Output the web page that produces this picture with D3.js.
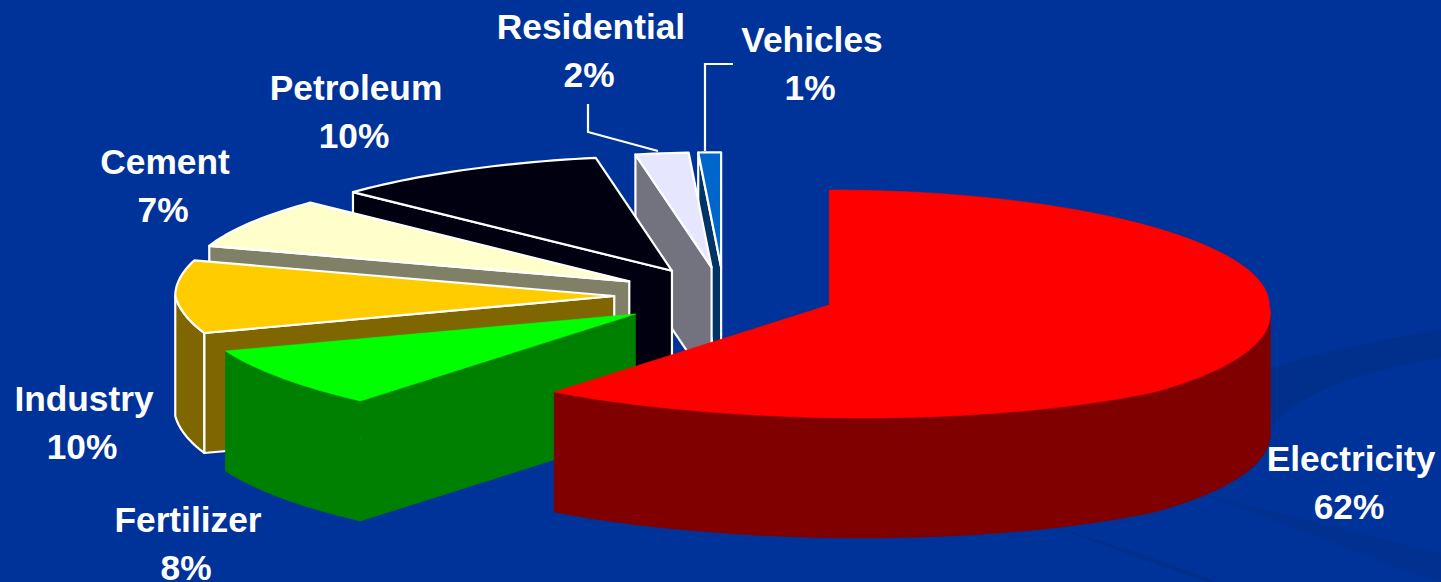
<!DOCTYPE html>
<html>
<head>
<meta charset="utf-8">
<script src="https://cdn.jsdelivr.net/npm/d3@7/dist/d3.min.js"></script>
<style>
  html, body { margin: 0; padding: 0; background: #003399; overflow: hidden; }
  svg { display: block; }
  text { font-family: "Liberation Sans", Arial, sans-serif; font-weight: bold; fill: #fff; font-size: 35.3px; text-anchor: middle; }
</style>
</head>
<body>
<svg id="chart" width="1441" height="582"></svg>
<script>
// Share of emissions by source, clockwise from twelve o'clock.
const categories = ["Electricity", "Fertilizer", "Industry", "Cement", "Petroleum", "Residential", "Vehicles"];
const shares = [62, 8, 10, 7, 10, 2, 1];
const topColors = ["#ff0000", "#00ff00", "#ffcc00", "#ffffcc", "#000010", "#e6e6ff", "#0066cc"];
const sideColors = ["#800000", "#008000", "#806600", "#808066", "#000010", "#737380", "#003366"];
const outlined = [false, false, true, true, true, true, true];
const sliceDrop = [-2, 2, 0, 0, 0, 0, 0];

const width = 1441, height = 582;
const svg = d3.select("#chart");

// Faint swooshes in the slide background.
const backdrop = svg.append("g");
backdrop.append("rect").attr("width", width).attr("height", height).attr("fill", "#003399");
backdrop.append("path")
  .attr("d", "M1270,368 C1320,352 1380,340 1441,329 L1441,358 C1380,368 1310,385 1272,425 Z")
  .attr("fill", "#00308c");
backdrop.append("path")
  .attr("d", "M1190,490 C1270,510 1360,535 1441,553 L1441,582 L1425,578 C1340,545 1260,515 1190,490 Z")
  .attr("fill", "#003090");
backdrop.append("path")
  .attr("d", "M1040,522 C1100,540 1160,560 1218,582 L1206,582 C1150,562 1095,542 1040,522 Z")
  .attr("fill", "#002f8c");

// Oblique view of the pie: unit circle coordinates to screen offsets.
const spreadX = d3.scaleLinear()
  .domain([-1, -0.951, -0.729, -0.187, -0.063, 0, 1])
  .range([-439, -420, -319, -76, -23, 0, 440]);
const spreadY = d3.scaleLinear()
  .domain([-1, 0, 0.309, 0.729, 1])
  .range([-115, 0, 37, 87, 113]);
// The near edge of the disc sits slightly right of centre.
const frontLean = d3.scaleLinear()
  .domain([-1, -0.73, -0.31, 0, 1])
  .range([30, 24, 10, 0, 0]);
const depth = 120;
const explode = 0.25;
const origin = [724, 296];

function project(angle, radius) {
  const s = Math.sin(angle), c = Math.cos(angle);
  return [radius * (spreadX(s) + frontLean(c)), radius * spreadY(-c)];
}

const arcs = d3.pie().sort(null).value(d => d)(shares);
const line = d3.line();
const closed = pts => line(pts) + "Z";
const drop = p => [p[0], p[1] + depth];

// Painter's order: the thinnest far slices first, the red slice last.
const order = d3.range(categories.length).reverse();

order.forEach(i => {
  const a = arcs[i];
  const mid = (a.startAngle + a.endAngle) / 2;
  const off = project(mid, explode);
  const apex = [origin[0] + off[0], origin[1] + off[1] + sliceDrop[i]];
  const steps = Math.max(4, Math.ceil((a.endAngle - a.startAngle) / 0.025));
  const rim = d3.range(steps + 1).map(k => {
    const t = a.startAngle + (a.endAngle - a.startAngle) * k / steps;
    const p = project(t, 1);
    return [apex[0] + p[0], apex[1] + p[1]];
  });

  const g = svg.append("g").attr("class", "slice");
  const strokeTop = outlined[i] ? "#fff" : topColors[i];
  const strokeSide = outlined[i] ? "#fff" : sideColors[i];
  const sw = outlined[i] ? 2.2 : 0.6;

  // Cut face on the leading edge, shown only when it turns toward the viewer.
  if (rim[0][0] < apex[0] - 0.5) {
    g.append("path")
      .attr("d", closed([apex, rim[0], drop(rim[0]), drop(apex)]))
      .attr("fill", sideColors[i]).attr("stroke", strokeSide).attr("stroke-width", sw)
      .attr("stroke-linejoin", "round");
  }

  // Outer wall under the part of the rim that faces front.
  const front = rim.filter((p, k) =>
    (k < rim.length - 1 && rim[k + 1][0] < p[0]) || (k > 0 && p[0] < rim[k - 1][0]));
  if (front.length > 1) {
    g.append("path")
      .attr("d", closed(front.concat(front.slice().reverse().map(drop))))
      .attr("fill", sideColors[i]).attr("stroke", strokeSide).attr("stroke-width", sw)
      .attr("stroke-linejoin", "round");
  }

  // Top face.
  g.append("path")
    .attr("d", closed([apex].concat(rim)))
    .attr("fill", topColors[i]).attr("stroke", strokeTop).attr("stroke-width", sw)
    .attr("stroke-linejoin", "round");
});

// Leader lines for the two narrow slices.
const leaders = [
  [[588, 104], [588, 132], [658, 151]],
  [[733, 64], [705, 64], [705, 151]]
];
svg.selectAll("path.leader").data(leaders).join("path")
  .attr("class", "leader")
  .attr("d", d => line(d))
  .attr("fill", "none").attr("stroke", "#fff").attr("stroke-width", 2.2);

// Two-line labels, in the same order as the categories.
const labelAnchors = [[1351, 471], [188, 532], [84, 411], [165, 174], [356, 100], [591, 39], [812, 52]];
const labels = svg.append("g").selectAll("g").data(categories).join("g")
  .attr("transform", (d, i) => `translate(${labelAnchors[i][0]},${labelAnchors[i][1]})`);
labels.append("text").text(d => d);
labels.append("text").attr("y", 48).attr("x", -2).text((d, i) => shares[i] + "%");
</script>
</body>
</html>
